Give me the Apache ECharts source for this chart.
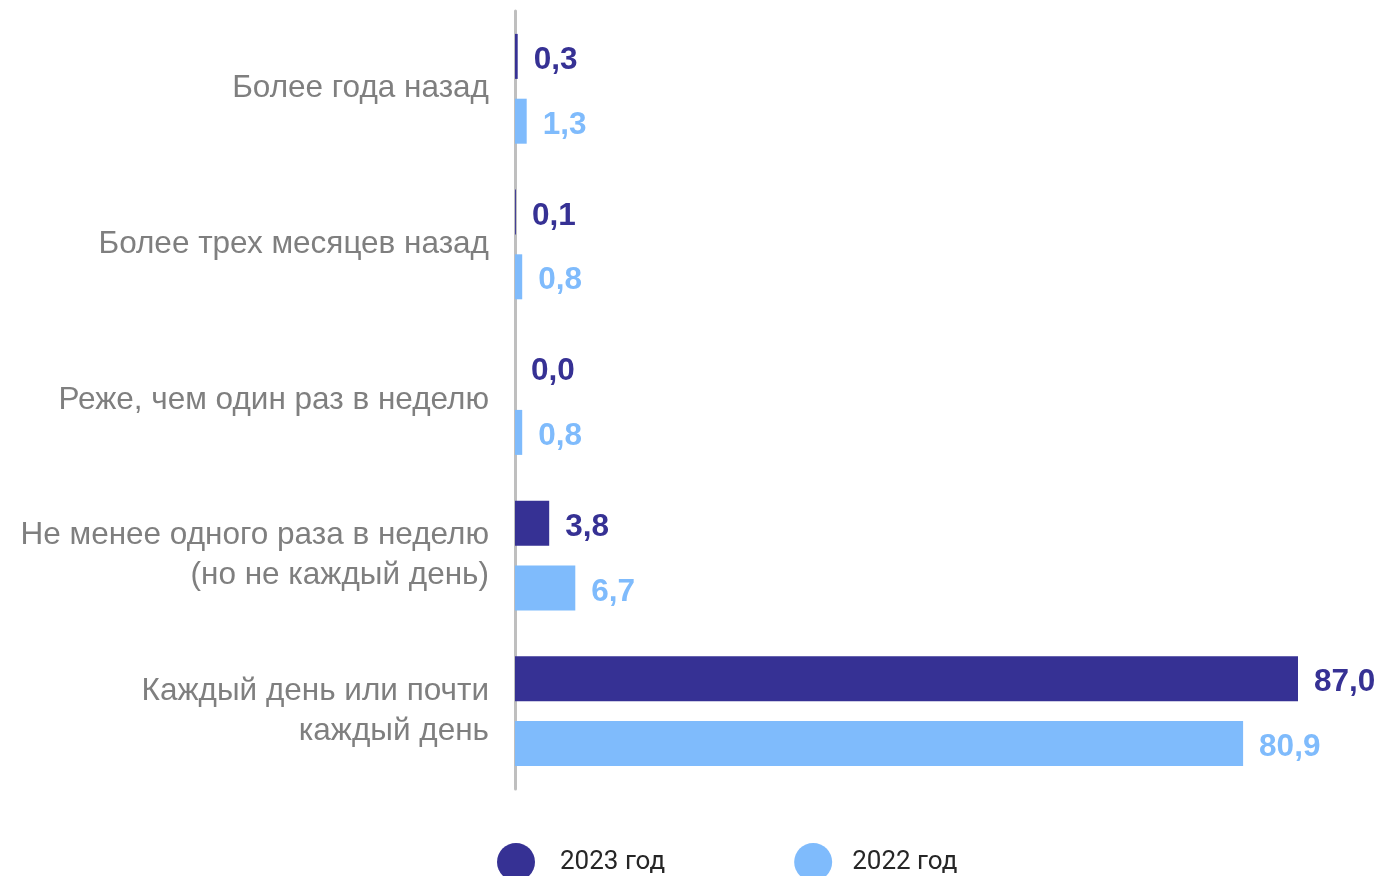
<!DOCTYPE html>
<html>
<head>
<meta charset="utf-8">
<script src="https://cdn.jsdelivr.net/npm/echarts@6/dist/echarts.min.js"></script>
<style>
html,body{margin:0;padding:0;background:#fff;}
#chart{width:1381px;height:876px;}
</style>
</head>
<body>
<div id="chart"></div>
<script>
const categories = [
  'Более года назад',
  'Более трех месяцев назад',
  'Реже, чем один раз в неделю',
  'Не менее одного раза в неделю\n(но не каждый день)',
  'Каждый день или почти\nкаждый день'
];
const seriesNames = ['2023 год', '2022 год'];
const values2023 = [0.3, 0.1, 0.0, 3.8, 87.0];
const values2022 = [1.3, 0.8, 0.8, 6.7, 80.9];
const colors = ['#363194', '#7fbbfc'];

const fmt = p => p.value.toFixed(1).replace('.', ',');

const chart = echarts.init(document.getElementById('chart'));
chart.setOption({
  animation: false,
  backgroundColor: '#ffffff',
  grid: { left: 515, right: 56, top: 11, bottom: 87, containLabel: false },
  xAxis: {
    type: 'value', min: 0, max: 90,
    show: false
  },
  yAxis: {
    type: 'category',
    inverse: true,
    data: categories,
    axisLine: { show: true, lineStyle: { color: '#bfbfbf', width: 3 } },
    axisTick: { show: false },
    axisLabel: {
      color: '#7f7f7f',
      fontFamily: 'Liberation Sans, Arial, sans-serif',
      fontSize: 31.5,
      lineHeight: 40,
      margin: 26,
      padding: [4, 0, 0, 0],
      align: 'right'
    }
  },
  legend: {
    data: [
      { name: seriesNames[0] },
      { name: seriesNames[1], textStyle: { padding: [0, 0, 0, 15] } }
    ],
    left: 492, top: 838,
    icon: 'circle',
    itemWidth: 38, itemHeight: 38,
    itemGap: 129,
    textStyle: {
      color: '#262626',
      fontFamily: 'Roboto, Arial, sans-serif',
      fontSize: 26,
      padding: [0, 0, 0, 20]
    }
  },
  series: [
    {
      name: seriesNames[0], type: 'bar', data: values2023,
      itemStyle: { color: colors[0] },
      barWidth: 45, barGap: '44%',
      label: {
        show: true, position: 'right', distance: 16, offset: [0, 4], formatter: fmt,
        color: colors[0], fontWeight: 'bold', fontSize: 31.5,
        fontFamily: 'Liberation Sans, Arial, sans-serif'
      }
    },
    {
      name: seriesNames[1], type: 'bar', data: values2022,
      itemStyle: { color: colors[1] },
      barWidth: 45, barGap: '44%',
      label: {
        show: true, position: 'right', distance: 16, offset: [0, 4], formatter: fmt,
        color: colors[1], fontWeight: 'bold', fontSize: 31.5,
        fontFamily: 'Liberation Sans, Arial, sans-serif'
      }
    }
  ]
});
</script>
</body>
</html>
